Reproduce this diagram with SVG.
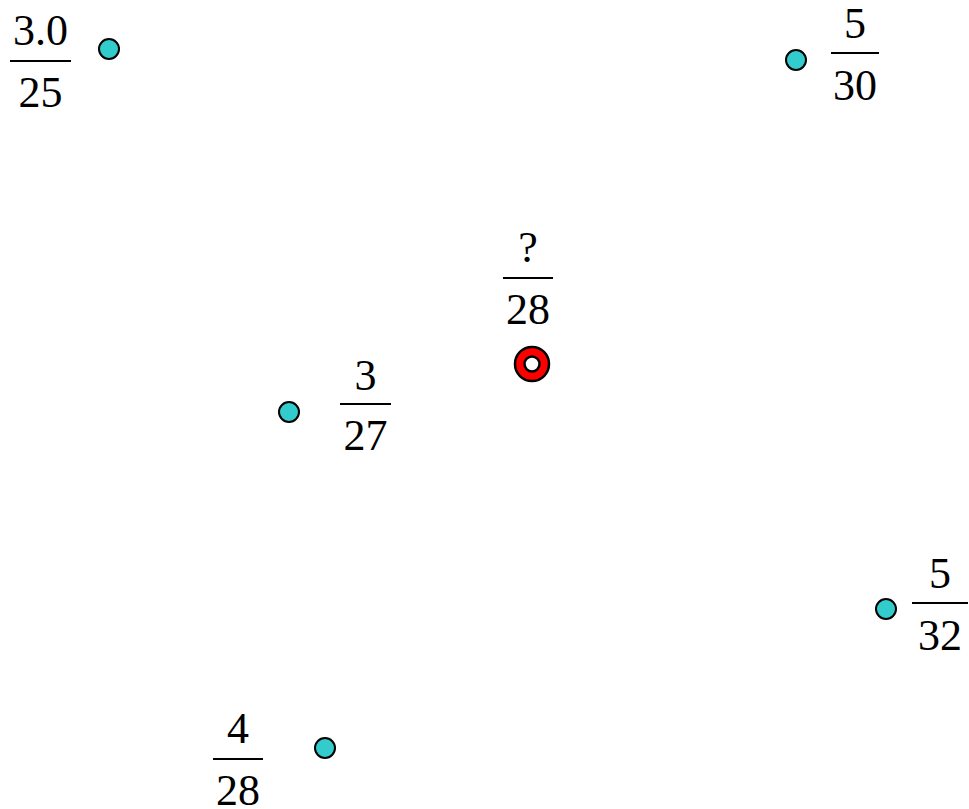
<svg xmlns="http://www.w3.org/2000/svg" width="969" height="809" viewBox="0 0 969 809">
<style>
text{font-family:"Liberation Serif","Times New Roman",serif;font-size:44px;fill:#000;text-anchor:middle}
.bar{stroke:#000;stroke-width:2}
.pt{fill:#33CCCC;stroke:#000;stroke-width:2}
</style>
<rect width="969" height="809" fill="#fff"/>
<g id="p1">
<circle class="pt" cx="109" cy="49" r="10"/>
<text x="40.5" y="45">3.0</text><line class="bar" x1="10" y1="61" x2="71" y2="61"/><text x="40.5" y="107">25</text>
</g>
<g id="p2">
<circle class="pt" cx="796" cy="60" r="10"/>
<text x="855" y="38">5</text><line class="bar" x1="831" y1="53" x2="879" y2="53"/><text x="855" y="100">30</text>
</g>
<g id="p3">
<circle cx="532" cy="364" r="17" fill="#f00" stroke="#000" stroke-width="2.5"/>
<circle cx="532" cy="364" r="7.5" fill="#fff" stroke="#000" stroke-width="2.5"/>
<text x="528" y="262">?</text><line class="bar" x1="503" y1="278" x2="553" y2="278"/><text x="528" y="324">28</text>
</g>
<g id="p4">
<circle class="pt" cx="289" cy="412" r="10"/>
<text x="365.5" y="390">3</text><line class="bar" x1="340" y1="404" x2="391" y2="404"/><text x="365.5" y="450">27</text>
</g>
<g id="p5">
<circle class="pt" cx="886" cy="609" r="10"/>
<text x="940" y="588">5</text><line class="bar" x1="912" y1="603" x2="968" y2="603"/><text x="940" y="650">32</text>
</g>
<g id="p6">
<circle class="pt" cx="325" cy="748" r="10"/>
<text x="238" y="743">4</text><line class="bar" x1="213" y1="759" x2="263" y2="759"/><text x="238" y="805">28</text>
</g>
<g id="connectors"/>
</svg>
